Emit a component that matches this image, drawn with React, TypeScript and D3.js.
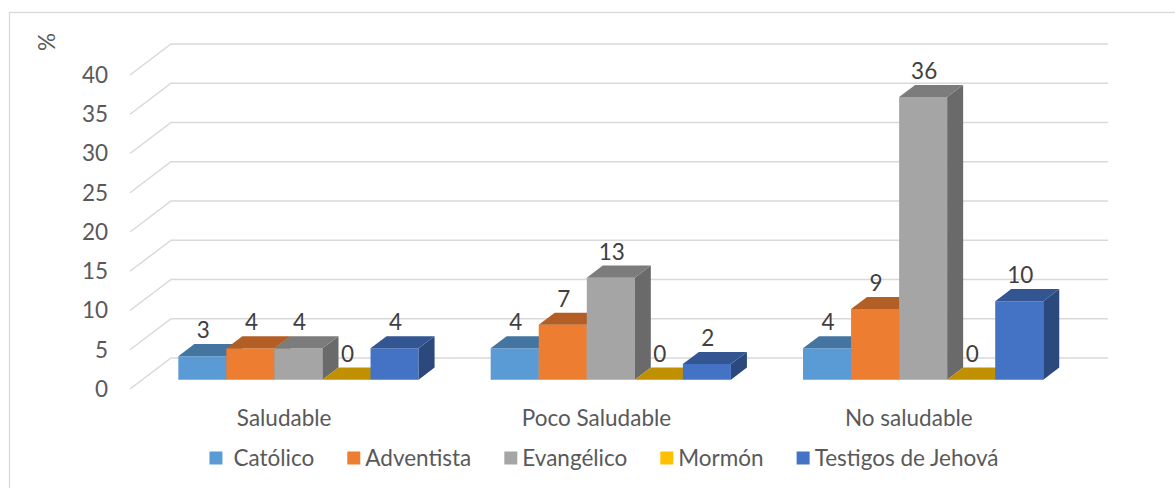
import React, { useEffect, useRef } from 'react';
import * as d3 from 'd3';

const categories = ['Saludable', 'Poco Saludable', 'No saludable'];
const seriesNames = ['Católico', 'Adventista', 'Evangélico', 'Mormón', 'Testigos de Jehová'];
const catolico = [3, 4, 4];
const adventista = [4, 7, 9];
const evangelico = [4, 13, 36];
const mormon = [0, 0, 0];
const testigos = [4, 2, 10];
const seriesValues = [catolico, adventista, evangelico, mormon, testigos];
const yTicks = [0, 5, 10, 15, 20, 25, 30, 35, 40];
const colors = ['#5B9BD5', '#ED7D31', '#A5A5A5', '#FFC000', '#4472C4'];
const yAxisTitle = '%';

export default function App() {
  const ref = useRef<SVGSVGElement>(null);
  useEffect(() => {
    const svg = d3.select(ref.current);
    svg.selectAll('*').remove();
    const FONT = 'Lato, "Open Sans", sans-serif';
    const FS = 22.5;
    const textColor = '#595959';
    const grid = '#D9D9D9';
    const DX = 41, DY = 31;
    const z0 = 0.3, z1 = 0.69;
    const x0 = 130, x1 = 1067;
    const y = d3.scaleLinear().domain([0, 40]).range([389, 75]);
    const P = (x: number, v: number, z: number) => [x + z * DX, y(v) - z * DY];
    const xCat = d3.scaleBand<string>().domain(categories).range([x0, x1]).padding(0);
    const xSer = d3.scaleBand<string>().domain(seriesNames).range([0, xCat.bandwidth()])
      .paddingInner(0).paddingOuter(0.75);

    // chart border
    svg.append('rect').attr('x', 9.5).attr('y', 12.5).attr('width', 1400).attr('height', 700)
      .attr('fill', 'none').attr('stroke', grid).attr('stroke-width', 1.3);

    // gridlines
    const line = d3.line();
    yTicks.forEach(t => {
      svg.append('path')
        .attr('d', line([P(x0, t, 0), P(x0, t, 1), P(x1, t, 1)] as [number, number][]))
        .attr('fill', 'none').attr('stroke', grid).attr('stroke-width', 1.5);
      svg.append('text').attr('x', 108).attr('y', y(t)).attr('dy', '0.35em')
        .attr('text-anchor', 'end').attr('font-family', FONT).attr('font-size', FS)
        .attr('fill', textColor).text(String(t));
    });

    // axis title
    svg.append('text').attr('transform', 'translate(47,42) rotate(-90)')
      .attr('text-anchor', 'middle').attr('dy', '0.35em')
      .attr('font-family', FONT).attr('font-size', FS).attr('fill', textColor).text(yAxisTitle);

    const poly = (pts: number[][]) => 'M' + pts.map(p => p.join(',')).join('L') + 'Z';

    // bars
    categories.forEach((c, ci) => {
      seriesNames.forEach((s, si) => {
        const v = seriesValues[si][ci];
        const bx = (xCat(c) as number) + (xSer(s) as number);
        const bw = xSer.bandwidth();
        const col = d3.rgb(colors[si]);
        const top = col.darker(0.8).formatHex();
        const side = col.darker(1.25).formatHex();
        const g = svg.append('g');
        if (v > 0) {
          g.append('path').attr('d', poly([P(bx, 0, z0), P(bx + bw, 0, z0), P(bx + bw, v, z0), P(bx, v, z0)]))
            .attr('fill', colors[si]);
          g.append('path').attr('d', poly([P(bx + bw, 0, z0), P(bx + bw, 0, z1), P(bx + bw, v, z1), P(bx + bw, v, z0)]))
            .attr('fill', side);
        }
        g.append('path').attr('d', poly([P(bx, v, z0), P(bx + bw, v, z0), P(bx + bw, v, z1), P(bx, v, z1)]))
          .attr('fill', top);
      });
    });

    // data labels
    categories.forEach((c, ci) => {
      seriesNames.forEach((s, si) => {
        const v = seriesValues[si][ci];
        const bx = (xCat(c) as number) + (xSer(s) as number);
        const bw = xSer.bandwidth();
        const lx = P(bx + bw / 2, v, z0)[0] + 1;
        const ly = P(bx + bw / 2, v, z1)[1] - 6;
        svg.append('text').attr('x', lx).attr('y', ly).attr('text-anchor', 'middle')
          .attr('font-family', FONT).attr('font-size', FS).attr('fill', '#404040').text(String(v));
      });
    });

    // category labels
    categories.forEach(c => {
      svg.append('text').attr('x', (xCat(c) as number) + xCat.bandwidth() / 2 - 2).attr('y', 426)
        .attr('text-anchor', 'middle').attr('font-family', FONT).attr('font-size', FS)
        .attr('fill', textColor).text(c);
    });

    // legend
    const lg = svg.append('g');
    const sq = 13, gapItem = 33;
    let cx = 0;
    const items: { g: any; w: number }[] = [];
    seriesNames.forEach((s, si) => {
      const gapT = si === 0 ? 11 : 5;
      const ig = lg.append('g');
      ig.append('rect').attr('x', 0).attr('y', 458 - sq / 2).attr('width', sq).attr('height', sq)
        .attr('fill', colors[si]);
      const t = ig.append('text').attr('x', sq + gapT).attr('y', 458).attr('dy', '0.35em')
        .attr('font-family', FONT).attr('font-size', FS).attr('fill', textColor).text(s);
      const w = sq + gapT + (t.node() as SVGTextElement).getComputedTextLength();
      items.push({ g: ig, w });
    });
    const total = d3.sum(items, d => d.w) + gapItem * (items.length - 1);
    cx = 604 - total / 2;
    items.forEach(it => {
      it.g.attr('transform', `translate(${cx},0)`);
      cx += it.w + gapItem;
    });
  }, []);
  return (
    <svg ref={ref} width={1175} height={488}
      style={{ position: 'absolute', left: 0, top: 0, background: '#fff' }} />
  );
}
